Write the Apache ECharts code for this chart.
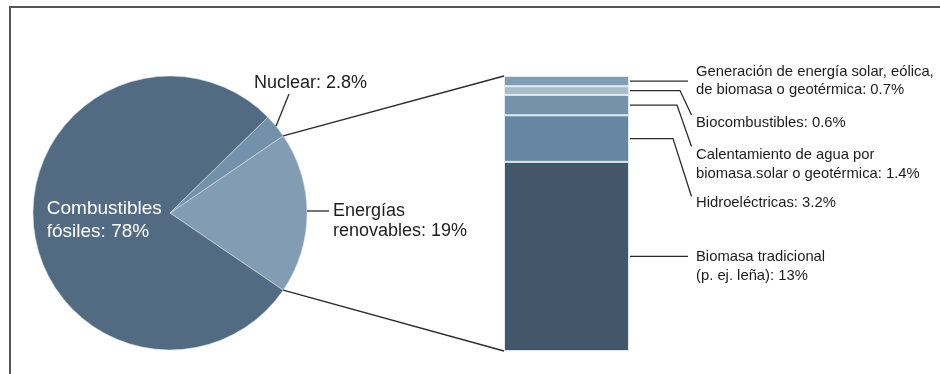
<!DOCTYPE html>
<html><head><meta charset="utf-8">
<script src="https://cdn.jsdelivr.net/npm/echarts@6/dist/echarts.min.js"></script>
<style>html,body{margin:0;padding:0;background:#fff}#c{width:940px;height:374px}</style>
</head><body><div id="c"></div>
<script>
// ---- data ----
const pieNames = ['Energías renovables', 'Combustibles fósiles', 'Nuclear'];
const pieValues = [19, 78, 2.8];
const pieLabels = ['Energías\nrenovables: 19%', 'Combustibles\nfósiles: 78%', 'Nuclear: 2.8%'];
const barNames = ['Biomasa tradicional', 'Hidroeléctricas', 'Calentamiento de agua', 'Biocombustibles', 'Generación'];
const barValues = [13, 3.2, 1.4, 0.6, 0.7];
const barLabels = [
  'Biomasa tradicional\n(p. ej. leña): 13%',
  'Hidroeléctricas: 3.2%',
  'Calentamiento de agua por\nbiomasa.solar o geotérmica: 1.4%',
  'Biocombustibles: 0.6%',
  'Generación de energía solar, eólica,\nde biomasa o geotérmica: 0.7%'
];

// ---- layout / style ----
const FONT = "'Liberation Sans', Arial, sans-serif";
const PIE = { cx: 170, cy: 213, r: 137 };
const GRID = { left: 504, top: 76, width: 125, height: 275 };
const pieColors = ['#829db3', '#536b82', '#7391aa'];
const barColors = ['#43576b', '#6686a1', '#7592ab', '#abbdcc', '#809db3'];
const rightLayout = [
  { elbow: 688, textY: 257.3 },
  { elbow: 673, diag: [691.5, 196.5], textY: 202.7 },
  { elbow: 677, diag: [691.5, 146.5], textY: 155 },
  { elbow: 680, diag: [691.5, 115], textY: 123.3 },
  { elbow: 688, textY: 71.7 }
];
const RIGHT_TEXT_X = 696, RIGHT_LH = 18.5, RIGHT_FS = 14.8;
const LINE_COLOR = '#2b2b2b', TEXT_COLOR = '#1c1c1c';

const chart = echarts.init(document.getElementById('c'), null, { renderer: 'canvas' });
const total = pieValues.reduce((a, b) => a + b, 0);
const barTotal = barValues.reduce((a, b) => a + b, 0);
const renewAngle = pieValues[0] / total * 360;
const startAngle = renewAngle / 2;

chart.setOption({
  animation: false,
  grid: { left: GRID.left, top: GRID.top, width: GRID.width, height: GRID.height, containLabel: false },
  xAxis: { type: 'category', data: ['renovables'], show: false },
  yAxis: { type: 'value', min: 0, max: barTotal, show: false },
  series: [
    {
      type: 'pie', center: [PIE.cx, PIE.cy], radius: PIE.r, startAngle: startAngle, clockwise: true,
      silent: true, label: { show: false }, labelLine: { show: false },
      itemStyle: { borderColor: '#d4dde5', borderWidth: 0.6 },
      data: pieNames.map((n, i) => ({ name: n, value: pieValues[i], itemStyle: { color: pieColors[i] } }))
    }
  ].concat(barValues.map((v, i) => ({
    type: 'bar', name: barNames[i], stack: 'r', barWidth: '100%', silent: true,
    data: [v], itemStyle: { color: barColors[i], borderColor: '#e2e8ed', borderWidth: 1 }
  })))
});

// ---- geometry derived from data ----
const pt = (deg, rr) => {
  const a = deg * Math.PI / 180; rr = rr === undefined ? PIE.r : rr;
  return [PIE.cx + rr * Math.cos(a), PIE.cy - rr * Math.sin(a)];
};
const yPix = v => chart.convertToPixel({ xAxisIndex: 0, yAxisIndex: 0 }, [0, v])[1];
const barLeft = GRID.left, barRight = GRID.left + GRID.width;
const lineStyle = { stroke: LINE_COLOR, lineWidth: 1.3, fill: null };
const els = [];

// frame
els.push({ type: 'polyline', shape: { points: [[10, 374], [10, 7], [940, 7]] }, style: { stroke: '#555', lineWidth: 2, fill: null } });

// connectors pie -> bar
els.push({ type: 'line', shape: { x1: pt(startAngle)[0], y1: pt(startAngle)[1], x2: barLeft, y2: yPix(barTotal) }, style: lineStyle });
els.push({ type: 'line', shape: { x1: pt(-startAngle)[0], y1: pt(-startAngle)[1], x2: barLeft, y2: yPix(0) }, style: lineStyle });

// nuclear label
const fossilAngle = pieValues[1] / total * 360;
const nucAngle = pieValues[2] / total * 360;
const nucMid = startAngle + nucAngle / 2;
const nP = pt(nucMid);
els.push({ type: 'line', shape: { x1: nP[0], y1: nP[1], x2: 289, y2: 94 }, style: lineStyle });
els.push({ type: 'text', style: { text: pieLabels[2], x: 254, y: 82.7, font: '18px ' + FONT, fill: TEXT_COLOR, align: 'left', verticalAlign: 'middle' } });

// renewables label
const ry = 211;
const rx = PIE.cx + Math.sqrt(PIE.r * PIE.r - (ry - PIE.cy) * (ry - PIE.cy));
els.push({ type: 'line', shape: { x1: rx, y1: ry, x2: 329, y2: ry }, style: lineStyle });
els.push({ type: 'text', style: { text: pieLabels[0], x: 333, y: ry - 10, font: '18px ' + FONT, lineHeight: 20, fill: TEXT_COLOR, align: 'left', verticalAlign: 'top' } });

// fossil label (inside, at half radius of its mid angle)
const fossilMid = -startAngle - fossilAngle / 2;
const fP = pt(fossilMid, PIE.r / 2);
els.push({ type: 'text', style: { text: pieLabels[1], x: fP[0] - 55, y: 209 - 11.5, font: '19px ' + FONT, lineHeight: 23, fill: '#ffffff', align: 'left', verticalAlign: 'top' } });

// bar labels with leader lines
let cum = 0;
barValues.forEach((v, i) => {
  const y = yPix(cum + v / 2); cum += v;
  const L = rightLayout[i];
  const pts = [[barRight + 1, y], [L.elbow, y]];
  if (L.diag) pts.push(L.diag);
  els.push({ type: 'polyline', shape: { points: pts }, style: lineStyle });
  els.push({ type: 'text', style: { text: barLabels[i], x: RIGHT_TEXT_X, y: L.textY - RIGHT_LH / 2, font: RIGHT_FS + 'px ' + FONT, lineHeight: RIGHT_LH, fill: TEXT_COLOR, align: 'left', verticalAlign: 'top' } });
});

chart.setOption({ graphic: { elements: els.map(e => Object.assign({ silent: true, z: 100 }, e)) } });
</script>
</body></html>
